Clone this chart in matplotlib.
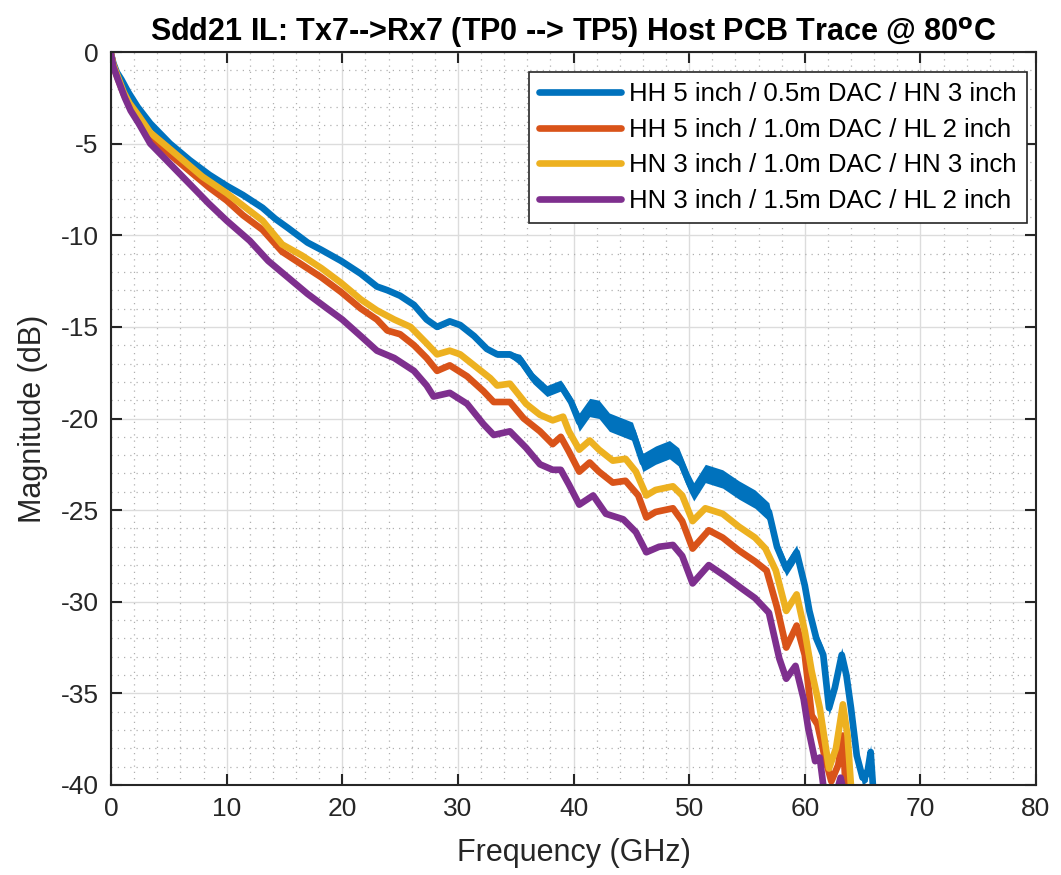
import numpy as np
import matplotlib
matplotlib.use("Agg")
import matplotlib.pyplot as plt
from matplotlib.ticker import MultipleLocator

plt.rcParams["font.family"] = ["Liberation Sans", "DejaVu Sans"]
plt.rcParams["axes.unicode_minus"] = False

# Sdd21 insertion loss (GHz, dB)
freq_a = [0, 0.2, 0.5, 0.9, 1.5, 2.3, 3.4, 5.1, 6.8, 8.5, 10, 11.4, 13.1, 14.2, 15.3, 17.0,
          18.2, 19.9, 21.6, 23.0, 23.9, 25.0, 26.2, 27.3, 28.2, 29.3, 30.2, 31.4, 32.5, 33.4,
          34.5, 35.4, 36.5, 37.7, 38.9, 39.8, 40.5, 41.4, 42.2, 43.1, 44.3, 45.1, 46.0, 47.1,
          48.3, 49.1, 50.0, 50.4, 51.4, 52.9, 54.3, 55.7, 56.9, 57.6, 58.4, 59.3, 60.0, 60.4,
          61.0, 61.6, 62.1, 62.6, 63.2, 63.6, 64.0, 64.5, 65.0, 65.4, 65.7, 66.0]
mag_a = [-0.1, -0.6, -1.1, -1.5, -2.2, -3.0, -3.9, -5.0, -5.9, -6.7, -7.3, -7.8, -8.5, -9.1,
         -9.6, -10.4, -10.8, -11.4, -12.1, -12.8, -13.0, -13.3, -13.8, -14.6, -15.0, -14.7,
         -14.9, -15.5, -16.2, -16.5, -16.5, -16.8, -17.8, -18.5, -18.2, -19.1, -20.2, -19.4,
         -19.5, -20.2, -20.5, -20.7, -22.4, -22.0, -21.7, -22.1, -23.5, -24.0, -23.0, -23.3,
         -23.9, -24.4, -25.1, -27.0, -28.2, -27.3, -29.1, -30.5, -32.0, -32.9, -35.8, -34.7,
         -32.9, -34.0, -35.8, -38.4, -39.6, -39.4, -38.2, -41.0]
# half-width of the noisy band around the blue trace (dB)
spread_a = [0] * 23 + [0.15] * 8 + [0.3] * 5 + [0.5] * 17 + [0.4] * 17

freq_b = [0, 0.2, 0.5, 1.1, 1.6, 2.3, 3.4, 5.1, 6.8, 8.5, 10, 11.4, 13.1, 14.8, 16.5, 18.2,
          19.9, 21.6, 23.0, 23.9, 25.0, 26.2, 27.3, 28.2, 29.3, 30.8, 32.2, 33.1, 34.5, 35.7,
          37.1, 38.2, 38.9, 39.6, 40.5, 41.4, 42.2, 43.4, 44.5, 45.6, 46.3, 47.1, 48.6, 49.4,
          50.3, 51.7, 52.9, 54.3, 55.7, 56.7, 57.6, 58.4, 59.3, 60.0, 60.6, 61.1, 61.7, 62.3,
          62.9, 63.3, 63.6]
mag_b = [-0.1, -0.7, -1.3, -2.3, -2.9, -3.6, -4.6, -5.6, -6.5, -7.4, -8.1, -8.9, -9.7, -10.9,
         -11.6, -12.3, -13.1, -14.0, -14.6, -15.2, -15.4, -16.0, -16.7, -17.4, -17.1, -17.7,
         -18.5, -19.1, -19.1, -20.0, -20.7, -21.4, -21.0, -21.8, -22.9, -22.4, -22.9, -23.5,
         -23.4, -24.2, -25.4, -25.1, -24.9, -25.6, -27.1, -26.1, -26.5, -27.2, -27.8, -28.3,
         -30.3, -32.5, -31.3, -32.9, -36.2, -36.7, -38.4, -39.8, -38.9, -37.3, -41.0]

freq_c = [0, 0.2, 0.5, 1.1, 1.6, 2.3, 3.4, 5.1, 7.9, 10, 13.1, 14.8, 16.5, 18.2, 19.9, 21.6,
          23.0, 24.5, 25.9, 27.3, 28.2, 29.3, 30.2, 31.6, 32.8, 33.4, 34.5, 35.9, 37.1, 38.2,
          39.1, 39.6, 40.5, 41.4, 42.2, 43.4, 44.5, 45.4, 46.3, 47.1, 48.6, 49.4, 50.3, 51.4,
          52.9, 54.3, 55.7, 56.6, 57.5, 58.4, 59.3, 60.0, 60.6, 61.3, 62.1, 62.7, 63.3, 63.7,
          64.1]
mag_c = [-0.1, -0.7, -1.2, -2.2, -2.8, -3.4, -4.4, -5.3, -6.8, -7.7, -9.2, -10.5, -11.1,
         -11.8, -12.6, -13.5, -14.1, -14.6, -15.0, -15.9, -16.5, -16.3, -16.5, -17.2, -17.8,
         -18.2, -18.1, -19.2, -19.8, -20.1, -19.9, -20.7, -21.7, -21.2, -21.7, -22.3, -22.2,
         -22.9, -24.2, -23.9, -23.7, -24.2, -25.6, -24.9, -25.2, -25.9, -26.5, -27.1, -28.3,
         -30.5, -29.6, -31.6, -33.8, -35.8, -39.1, -38.0, -35.6, -37.3, -41.0]

freq_d = [0, 0.2, 0.6, 1.2, 1.7, 2.4, 3.4, 5.1, 6.8, 8.5, 10, 12, 13.6, 15.3, 17.0, 18.7, 20,
          21.6, 23.0, 24.5, 26.2, 27.3, 27.9, 29.3, 30.8, 32.2, 33.1, 34.5, 35.9, 37.1, 38.2,
          38.9, 39.6, 40.5, 41.7, 42.8, 44.3, 45.4, 46.3, 47.4, 48.6, 49.4, 50.3, 51.7, 53.1,
          54.6, 55.7, 56.9, 57.8, 58.4, 59.2, 59.9, 60.3, 60.9, 61.3, 61.8, 62.5, 63.1, 63.6]
mag_d = [-0.1, -0.8, -1.5, -2.5, -3.2, -3.9, -5.0, -6.1, -7.2, -8.3, -9.2, -10.3, -11.4,
         -12.3, -13.2, -14.0, -14.6, -15.5, -16.3, -16.7, -17.4, -18.2, -18.8, -18.6, -19.2,
         -20.3, -20.9, -20.7, -21.6, -22.5, -22.8, -22.8, -23.6, -24.7, -24.2, -25.2, -25.5,
         -26.2, -27.3, -27.0, -26.9, -27.5, -29.0, -28.0, -28.6, -29.3, -29.8, -30.6, -33.1,
         -34.2, -33.5, -35.3, -36.9, -38.7, -38.5, -41.0, -41.0, -39.6, -41.0]

labels = ["HH 5 inch / 0.5m DAC / HN 3 inch",
          "HH 5 inch / 1.0m DAC / HL 2 inch",
          "HN 3 inch / 1.0m DAC / HN 3 inch",
          "HN 3 inch / 1.5m DAC / HL 2 inch"]
colors = ["#0072BD", "#D95319", "#EDB120", "#7E2F8E"]

fig = plt.figure(figsize=(10.61, 8.75), dpi=100)
ax = fig.add_axes([111 / 1061, 1 - 785 / 875, 925 / 1061, 733 / 875])

series = [(freq_a, mag_a), (freq_b, mag_b), (freq_c, mag_c), (freq_d, mag_d)]
for (f, m), lab, c in zip(series, labels, colors):
    ax.plot(f, m, color=c, lw=4.8, label=lab, solid_joinstyle="round",
            solid_capstyle="round")

# noisy envelope on the blue trace
fa, ma, sa = np.array(freq_a), np.array(mag_a), np.array(spread_a)
ax.fill_between(fa, ma - sa, ma + sa, color=colors[0], lw=0, zorder=2)

ax.set_xlim(0, 80)
ax.set_ylim(-40, 0)
ax.xaxis.set_major_locator(MultipleLocator(10))
ax.xaxis.set_minor_locator(MultipleLocator(2))
ax.yaxis.set_major_locator(MultipleLocator(5))
ax.yaxis.set_minor_locator(MultipleLocator(1))

ax.grid(which="major", color="#dcdcdc", lw=1.0)
ax.grid(which="minor", color="#b0b0b0", lw=0.9, ls=(0, (1, 4)))
ax.set_axisbelow(True)

dark = "#262626"
for sp in ax.spines.values():
    sp.set_color(dark)
    sp.set_linewidth(1.5)
ax.tick_params(which="both", direction="in", top=True, right=True, colors=dark,
               labelsize=19, width=1.5)
ax.tick_params(which="major", length=8, pad=9)
ax.tick_params(which="minor", length=0)

ax.set_xlabel("Frequency (GHz)", fontsize=22, color=dark, labelpad=12)
ax.set_ylabel("Magnitude (dB)", fontsize=22, color=dark, labelpad=9)
ax.set_title("Sdd21 IL: Tx7-->Rx7 (TP0 --> TP5) Host PCB Trace @ 80$^\\mathbf{o}$C",
             fontsize=22, fontweight="bold", pad=8)

leg = ax.legend(loc="upper right", bbox_to_anchor=(0.99, 0.973), fontsize=18.5,
                frameon=True, fancybox=False, handlelength=3.2, labelspacing=0.45,
                borderpad=0.4, handletextpad=0.3, borderaxespad=0)
leg.get_frame().set_edgecolor(dark)
leg.get_frame().set_linewidth(1.2)
leg.get_frame().set_alpha(1)

fig.savefig("out.png", dpi=100)
